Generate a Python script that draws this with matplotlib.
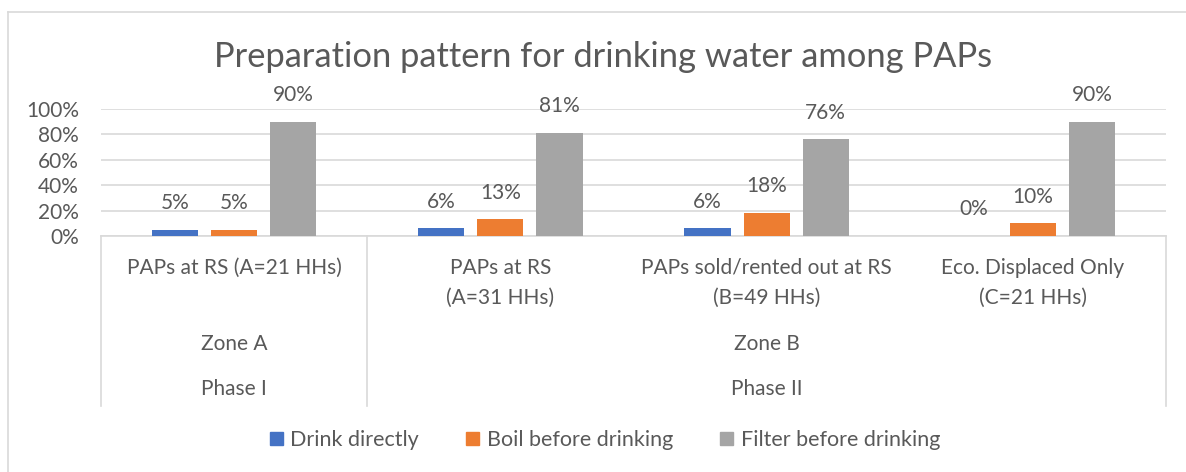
import matplotlib.pyplot as plt
from matplotlib.patches import Patch
from matplotlib.lines import Line2D

plt.rcParams['font.family'] = ['Lato', 'DejaVu Sans']

groups = ["PAPs at RS (A=21 HHs)", "PAPs at RS\n(A=31 HHs)",
          "PAPs sold/rented out at RS\n(B=49 HHs)", "Eco. Displaced Only\n(C=21 HHs)"]
zones = ["Zone A", "Zone B"]
phases = ["Phase I", "Phase II"]
series = ["Drink directly", "Boil before drinking", "Filter before drinking"]
drink = [5, 6, 6, 0]
boil = [5, 13, 18, 10]
filt = [90, 81, 76, 90]
colors = ["#4472C4", "#ED7D31", "#A5A5A5"]

txt = "#595959"
grid = "#D9D9D9"
fs = 15

W, H = 1186, 472
fig = plt.figure(figsize=(W / 100, H / 100), dpi=100)

# plot area in pixels
x0, x1 = 101, 1166
y0, y1 = 236, 109
ax = fig.add_axes([x0 / W, 1 - y0 / H, (x1 - x0) / W, (y0 - y1) / H])

def ay(py):
    # pixel row -> axes y fraction
    return (y0 - py) / (y0 - y1)

xs = range(len(groups))
step, bw = 0.222, 0.173
for k, vals in enumerate([drink, boil, filt]):
    pos = [x + (k - 1) * step for x in xs]
    bars = ax.bar(pos, [v / 100 for v in vals], width=bw, color=colors[k], zorder=3)
    for p, v in zip(pos, vals):
        ax.annotate(f"{v}%", (p, v / 100), xytext=(0, 12), textcoords="offset points",
                    ha="center", va="bottom", fontsize=fs, color=txt)

ax.set_xlim(-0.5, 3.5)
ax.set_ylim(0, 1)
ax.set_yticks([0, 0.2, 0.4, 0.6, 0.8, 1.0])
ax.set_yticklabels(["0%", "20%", "40%", "60%", "80%", "100%"])
ax.tick_params(axis="y", length=0, labelsize=fs, labelcolor=txt, pad=16)
ax.set_xticks([])
ax.grid(axis="y", color=grid, linewidth=1.2, zorder=0)
for s in ["top", "right", "left"]:
    ax.spines[s].set_visible(False)
ax.spines["bottom"].set_color(grid)
ax.spines["bottom"].set_linewidth(1.2)

tr = ax.get_xaxis_transform()
# separators of the multi-level axis
for xv in [-0.5, 0.5, 3.5]:
    ax.plot([xv, xv], [0, ay(406)], transform=tr, color=grid, lw=1.2, clip_on=False)

# category labels
for i, g in enumerate(groups):
    for j, line in enumerate(g.split("\n")):
        ax.text(i, ay(268 + 30 * j), line, transform=tr, ha="center", va="center",
                fontsize=fs, color=txt)
for xv, z in zip([0, 2], zones):
    ax.text(xv, ay(344), z, transform=tr, ha="center", va="center", fontsize=fs, color=txt)
for xv, p in zip([0, 2], phases):
    ax.text(xv, ay(389), p, transform=tr, ha="center", va="center", fontsize=fs, color=txt)

fig.text(603 / W, 1 - 57 / H, "Preparation pattern for drinking water among PAPs",
         ha="center", va="center", fontsize=24.8, color=txt)

handles = [Patch(color=c) for c in colors]
fig.legend(handles, series, loc="center", bbox_to_anchor=(605 / W, 1 - 440 / H), ncol=3,
           frameon=False, fontsize=15.5, labelcolor=txt, handlelength=0.6, handleheight=0.6,
           handletextpad=0.35, columnspacing=2.2)

# chart border (left and top visible)
fig.add_artist(Line2D([7.5 / W, 7.5 / W], [0, 1 - 11.5 / H], transform=fig.transFigure, color=grid, lw=1.2))
fig.add_artist(Line2D([7.5 / W, 1], [1 - 11.5 / H, 1 - 11.5 / H], transform=fig.transFigure, color=grid, lw=1.2))

fig.savefig("out.png", dpi=100)
